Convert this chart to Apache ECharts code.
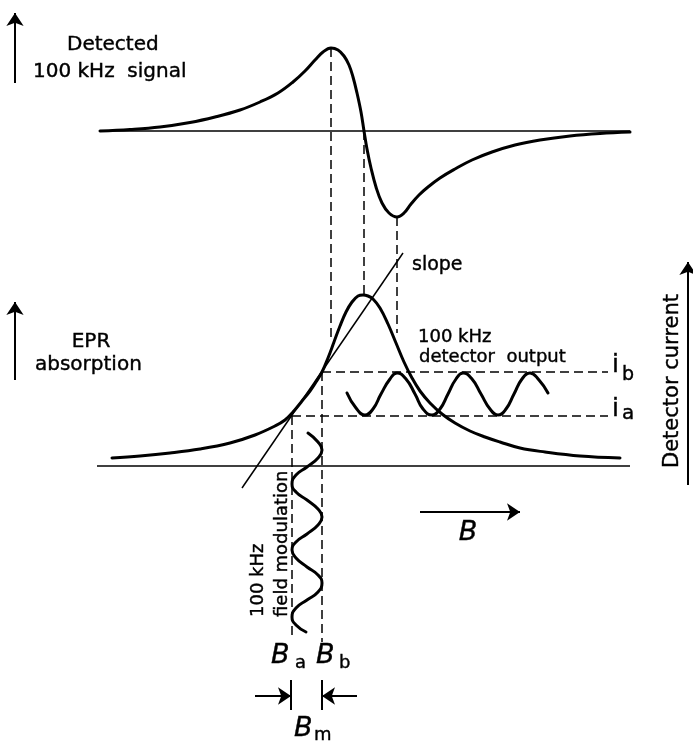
<!DOCTYPE html>
<html>
<head>
<meta charset="utf-8">
<script src="https://cdn.jsdelivr.net/npm/echarts@6/dist/echarts.min.js"></script>
<style>html,body{margin:0;padding:0;background:#fff}#c{width:693px;height:741px}</style>
</head>
<body>
<div id="c"></div>
<script>
// Diagram coordinates (field axis x, signal axis y; y grows downward)
const derivCurve = [[100,131],[130,129.5],[160,127],[190,122.5],[215,117],[240,110],[260,102],[278,93],[293,82],[305,71],[315,60],[323,52],[331,48],[338,50],[344,56],[349,65],[353,77],[357,93],[361,112],[364,131],[367,149],[371,168],[376,187],[382,203],[389,213],[397,217],[404,213],[411,204],[419,195],[428,187],[440,178],[455,169],[472,160],[492,152],[515,145],[540,140],[570,136],[600,133.5],[630,132]];
const absorbCurve = [[112,458],[140,456],[170,453],[200,449],[230,443],[255,435],[275,426],[285,420],[293,412],[302,401],[310,391],[316,382],[322,372],[328,358],[334,342],[340,326],[346,312],[352,302],[358,296],[363,295],[368,296],[373,299],[380,308],[388,324],[396,343],[404,362],[412,378],[420,391],[430,403],[442,414],[455,423],[470,431],[485,437],[500,442],[520,448],[545,452],[580,456],[620,458]];
const fieldMod = [[308,433],[318,442],[322,450],[318,458],[307,467],[296,475],[292,484],[296,492],[307,500],[318,509],[322,517],[318,525],[307,534],[296,542],[292,550],[296,558],[307,567],[318,575],[322,583],[318,592],[307,600],[296,608],[292,617],[296,625],[306,632]];
const detOut = [[347,393],[356,408],[365,415],[373,409],[381,394],[390,379],[397,373],[406,379],[415,394],[423,409],[432,415],[440,409],[448,394],[456,379],[463,373],[472,379],[481,394],[490,409],[498,415],[506,409],[514,394],[522,379],[530,373],[539,380],[548,393]];
const baselines = [[[100,131],[630,131]],[[97,466],[630,466]]];
const dashedLines = [[[331,48],[331,340]],[[364,131],[364,294]],[[397,217],[397,333]],[[322,372],[608,372]],[[292,416],[608,416]],[[292,416],[292,640]],[[322,372],[322,642]]];
const slopeLine = [[[242,488],[403,253]]];
const arrows = [[[15,83],[15,13]],[[15,380],[15,302]],[[688,485],[688,262]],[[420,512],[520,512]],[[255,696],[291,696]],[[357,696],[322,696]]];
const ticks = [[[291,680],[291,710]],[[322,680],[322,710]]];

// text, x, y (vertical centre), align, rotate (deg), size, style
const textLabels = [
  ['Detected', 67, 45, 'left', 0, 20, 'normal'],
  ['100 kHz  signal', 33, 72, 'left', 0, 20, 'normal'],
  ['EPR', 91, 342, 'center', 0, 20, 'normal'],
  ['absorption', 35, 365, 'left', 0, 20, 'normal'],
  ['slope', 412, 265, 'left', 0, 19, 'normal'],
  ['100 kHz', 418, 337, 'left', 0, 18, 'normal'],
  ['detector  output', 419, 357, 'left', 0, 18, 'normal'],
  ['Detector current', 673, 381, 'center', 90, 21, 'normal'],
  ['100 kHz', 258, 617, 'left', 90, 18, 'normal'],
  ['field modulation', 282, 617, 'left', 90, 18, 'normal'],
  ['i', 612, 365, 'left', 0, 25, 'normal'],
  ['b', 622, 375, 'left', 0, 19, 'normal'],
  ['i', 612, 409, 'left', 0, 25, 'normal'],
  ['a', 622, 414, 'left', 0, 20, 'normal'],
  ['B', 468, 533, 'center', 0, 27, 'italic'],
  ['B', 271, 656, 'left', 0, 27, 'italic'],
  ['a', 295, 663, 'left', 0, 18, 'normal'],
  ['B', 316, 656, 'left', 0, 27, 'italic'],
  ['b', 339, 663, 'left', 0, 18, 'normal'],
  ['B', 294, 729, 'left', 0, 27, 'italic'],
  ['m', 314, 735, 'left', 0, 18, 'normal']
];

const FONT = 'DejaVu Sans';
const chart = echarts.init(document.getElementById('c'), null, {renderer: 'canvas'});

function lineSeries(data, width, smooth) {
  return {type: 'line', data: data, smooth: smooth, showSymbol: false, symbol: 'none', silent: true, animation: false,
    lineStyle: {color: '#000', width: width, cap: 'round', join: 'round'}, z: 3};
}
function segSeries(data, width, type, arrow) {
  return {type: 'lines', coordinateSystem: 'cartesian2d', silent: true, animation: false,
    data: data.map(d => ({coords: d})),
    symbol: arrow ? ['none', 'arrow'] : ['none', 'none'], symbolSize: arrow ? [9, 13] : 0,
    lineStyle: {color: '#000', width: width, type: type, opacity: 1}, z: 2};
}

chart.setOption({
  animation: false,
  backgroundColor: '#fff',
  grid: {left: 0, right: 0, top: 0, bottom: 0},
  xAxis: {type: 'value', min: 0, max: 693, show: false},
  yAxis: {type: 'value', min: 0, max: 741, inverse: true, show: false},
  series: [
    lineSeries(derivCurve, 3, 0.4),
    lineSeries(absorbCurve, 3, 0.4),
    lineSeries(fieldMod, 3, 0.5),
    lineSeries(detOut, 3, 0.5),
    segSeries(baselines, 1.6, 'solid', false),
    segSeries(dashedLines, 1.5, [9, 5], false),
    segSeries(slopeLine, 1.5, 'solid', false),
    segSeries(arrows, 2, 'solid', true),
    segSeries(ticks, 2, 'solid', false)
  ]
});

chart.setOption({
  graphic: textLabels.map(t => {
    const p = chart.convertToPixel({gridIndex: 0}, [t[1], t[2]]);
    return {
      type: 'text', x: p[0], y: p[1], rotation: t[4] * Math.PI / 180, silent: true, z: 10,
      style: {
        text: t[0], fill: '#000', stroke: '#000', lineWidth: 0.4,
        font: t[6] + ' ' + t[5] + 'px "' + FONT + '"',
        align: t[3], verticalAlign: 'middle'
      }
    };
  })
});
</script>
</body>
</html>
